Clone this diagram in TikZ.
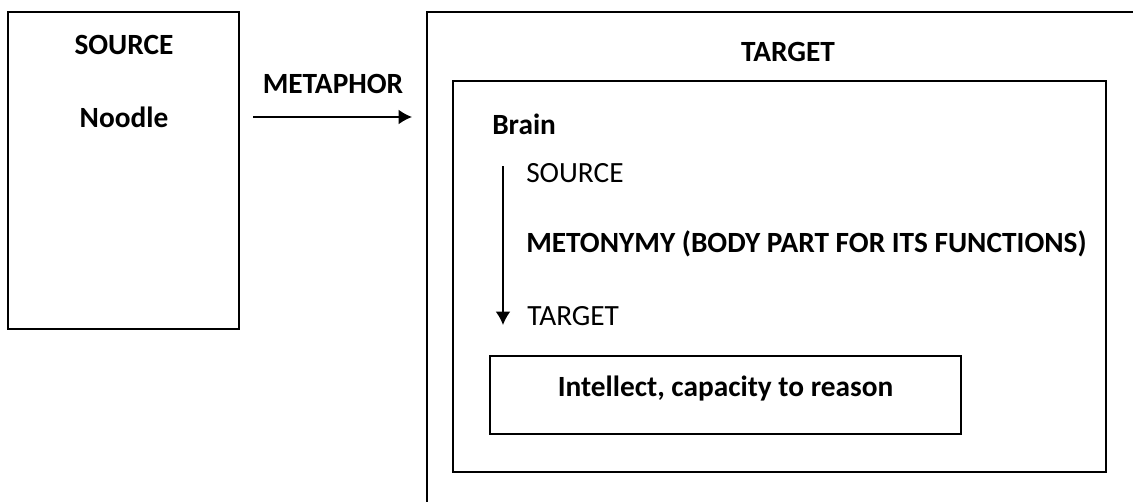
\documentclass[tikz,border=0pt]{standalone}
\usepackage{fontspec}
\setmainfont{Carlito}
\usepackage{tikz}
\usetikzlibrary{arrows.meta}
\tikzstyle{box}=[draw, line width=1.1pt, inner sep=0pt]
\tikzstyle{word}=[inner sep=0pt, font=\fontsize{22}{26}\selectfont]
\tikzstyle{link}=[-{Latex[length=10pt, width=11pt]}, line width=1.1pt]
\newcommand{\word}{\node[word]}
\begin{document}
\begin{tikzpicture}[x=0.75pt, y=-0.75pt]
\clip (0,0) rectangle (1133,501);
\node[box, minimum width=231*0.75pt, minimum height=317*0.75pt] (left) at (123.5,170.5) {};
\node[box, minimum width=760*0.75pt, minimum height=560*0.75pt] (right) at (807,292) {};
\node[box, minimum width=653*0.75pt, minimum height=391*0.75pt] (brainbox) at (779.5,276.5) {};
\node[box, minimum width=471*0.75pt, minimum height=78*0.75pt] (intellectbox) at (725.5,395) {};
\word[anchor=base] (source) at (124,54) {\textbf{SOURCE}};
\word[anchor=base] (noodle) at (124,127) {\textbf{Noodle}};
\word[anchor=base] (metaphor) at (333,93) {\textbf{METAPHOR}};
\word[anchor=base] (target) at (788,61) {\textbf{TARGET}};
\word[anchor=base west] (brain) at (492,134) {\textbf{Brain}};
\word[anchor=base west] (msource) at (526,182) {SOURCE};
\word[anchor=base west] (metonymy) at (526,252) {\textbf{METONYMY (BODY PART FOR ITS FUNCTIONS)}};
\word[anchor=base west] (mtarget) at (527,325) {TARGET};
\word[anchor=base] (intellect) at (725.5,396) {\textbf{Intellect, capacity to reason}};
\coordinate (m1) at (253,117);
\coordinate (m2) at (412,117);
\coordinate (n1) at (503,166);
\coordinate (n2) at (503,325);
\draw[link] (m1) -- (m2);
\draw[link] (n1) -- (n2);
\end{tikzpicture}
\end{document}
